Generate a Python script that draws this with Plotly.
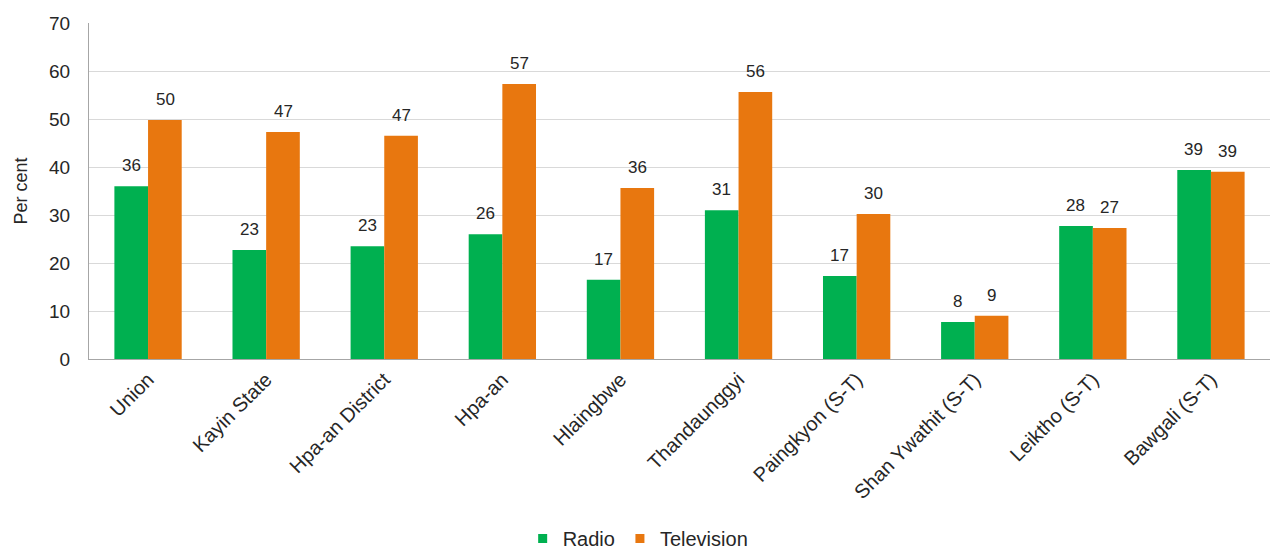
import plotly.graph_objects as go

categories = ["Union", "Kayin State", "Hpa-an District", "Hpa-an", "Hlaingbwe",
              "Thandaunggyi", "Paingkyon (S-T)", "Shan Ywathit (S-T)", "Leiktho (S-T)", "Bawgali (S-T)"]
radio = [36.0, 22.7, 23.5, 26.0, 16.5, 31.0, 17.3, 7.7, 27.7, 39.4]
television = [49.8, 47.3, 46.5, 57.3, 35.6, 55.6, 30.2, 9.0, 27.3, 39.0]
radio_labels = ["36", "23", "23", "26", "17", "31", "17", "8", "28", "39"]
tv_labels = ["50", "47", "47", "57", "36", "56", "30", "9", "27", "39"]

GREEN = "#00B050"
ORANGE = "#E8770F"
FONT = "Liberation Sans, Arial, sans-serif"
TXT = "#262626"

fig = go.Figure()
fig.add_trace(go.Bar(x=categories, y=radio, name="Radio", marker_color=GREEN,
                     marker_line_width=0, showlegend=False))
fig.add_trace(go.Bar(x=categories, y=television, name="Television", marker_color=ORANGE,
                     marker_line_width=0, showlegend=False))
# legend entries with small square symbols
fig.add_trace(go.Scatter(x=[None], y=[None], mode="markers", name="Radio",
                         marker=dict(symbol="square", size=9, color=GREEN)))
fig.add_trace(go.Scatter(x=[None], y=[None], mode="markers", name="Television",
                         marker=dict(symbol="square", size=9, color=ORANGE)))

annotations = []
for c, v, t in zip(categories, radio, radio_labels):
    annotations.append(dict(x=c, y=v, text=t, showarrow=False, xanchor="center", yanchor="bottom",
                            xshift=-17, yshift=9, font=dict(family=FONT, size=17, color=TXT)))
for c, v, t in zip(categories, television, tv_labels):
    annotations.append(dict(x=c, y=v, text=t, showarrow=False, xanchor="center", yanchor="bottom",
                            xshift=17, yshift=9, font=dict(family=FONT, size=17, color=TXT)))

fig.update_layout(
    width=1273, height=553,
    margin=dict(l=89, r=3, t=23, b=194, autoexpand=False),
    plot_bgcolor="white", paper_bgcolor="white",
    barmode="group", bargap=0.43, bargroupgap=0,
    font=dict(family=FONT, size=18, color=TXT),
    annotations=annotations,
    legend=dict(orientation="h", x=0.465, xanchor="center", y=-0.592, yanchor="bottom",
                font=dict(family=FONT, size=20, color=TXT), itemwidth=30,
                traceorder="normal", borderwidth=0),
    showlegend=True,
)
fig.update_yaxes(range=[0, 70], dtick=10, showgrid=True, gridcolor="#D9D9D9", gridwidth=1,
                 showline=True, linecolor="#A6A6A6", linewidth=1, ticks="", ticklabelstandoff=14,
                 title=dict(text="Per cent", font=dict(family=FONT, size=18, color=TXT), standoff=16),
                 tickfont=dict(family=FONT, size=19, color=TXT), zeroline=False)
fig.update_xaxes(showline=True, linecolor="#A6A6A6", linewidth=1, tickangle=-45,
                 tickfont=dict(family=FONT, size=20, color=TXT), ticks="", showgrid=False)

fig.write_html("out.html")
